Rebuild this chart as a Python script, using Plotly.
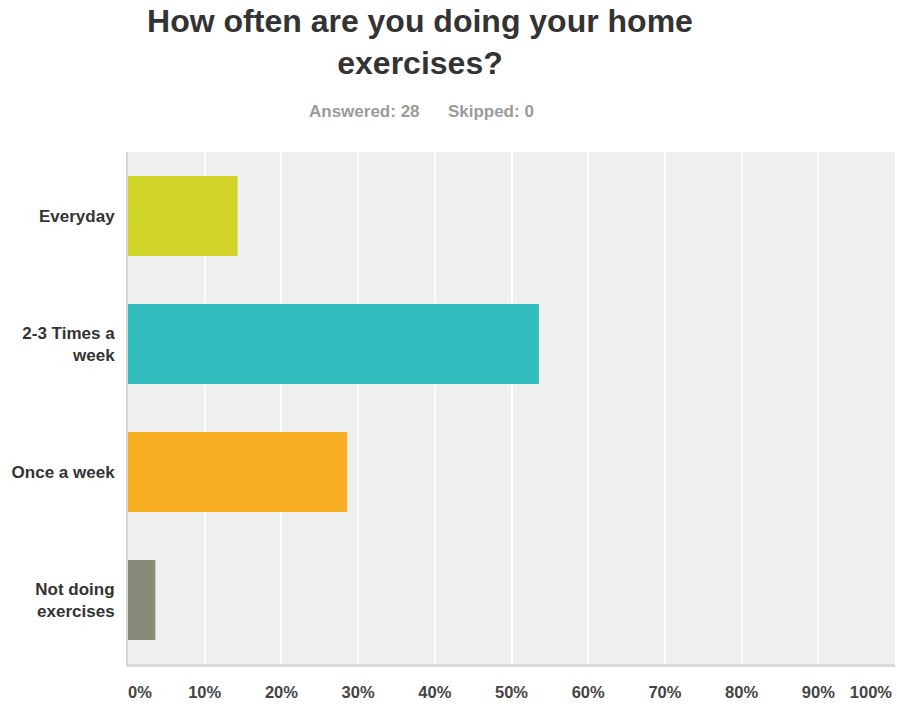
import plotly.graph_objects as go

# Survey responses (28 answered), share of respondents in percent
categories = ["Everyday", "2-3 Times a<br>week", "Once a week", "Not doing<br>exercises"]
percentages = [14.29, 53.57, 28.57, 3.57]
bar_colors = ["#CFD427", "#33BDBF", "#F7AF21", "#8A8A79"]

tick_values = [0, 10, 20, 30, 40, 50, 60, 70, 80, 90, 100]
tick_labels = ["0%", "10%", "20%", "30%", "40%", "50%", "60%", "70%", "80%", "90%", "100%"]

title_text = "How often are you doing your home<br>exercises?"
subtitle_text = "Answered: 28\u00a0\u00a0\u00a0\u00a0\u00a0 Skipped: 0"

fig = go.Figure(
    go.Bar(
        x=percentages,
        y=categories,
        orientation="h",
        marker=dict(color=bar_colors, line=dict(width=0)),
        hovertemplate="%{y}: %{x:.2f}%<extra></extra>",
    )
)

# invisible helper traces so the two overlay axes (end labels) get drawn
for axis_id in ("x2", "x3"):
    fig.add_trace(
        go.Scatter(
            x=[None],
            y=[categories[0]],
            xaxis=axis_id,
            yaxis="y",
            mode="markers",
            marker=dict(opacity=0),
            hoverinfo="skip",
            showlegend=False,
        )
    )

tick_font = dict(size=16.5, color="#444444", weight="bold")

fig.update_layout(
    width=897,
    height=704,
    margin=dict(l=128, r=2, t=152, b=40, autoexpand=False),
    paper_bgcolor="white",
    plot_bgcolor="#EFEFEF",
    bargap=0.375,
    showlegend=False,
    font=dict(family="Liberation Sans, Arial, sans-serif", color="#333333"),
    title=dict(
        text=title_text,
        x=420 / 897,
        xanchor="center",
        xref="container",
        y=1 - 32 / 704,
        yanchor="top",
        yref="container",
        font=dict(size=32, color="#333333", family="Liberation Sans, Arial, sans-serif", weight="bold"),
    ),
    annotations=[
        dict(
            text=subtitle_text,
            xref="paper",
            yref="paper",
            x=(421 - 128) / 767,
            y=(664 - 111) / 512,
            xanchor="center",
            yanchor="middle",
            showarrow=False,
            font=dict(size=17, color="#9B9B9B", weight="bold"),
        )
    ],
    # inner tick labels are centred on their gridlines
    xaxis=dict(
        range=[0, 100],
        tickvals=tick_values[1:-1],
        ticktext=tick_labels[1:-1],
        showgrid=True,
        gridcolor="white",
        gridwidth=2,
        zeroline=False,
        showline=True,
        linecolor="#DADADA",
        linewidth=3,
        ticks="",
        ticklabelstandoff=11,
        automargin=False,
        tickfont=tick_font,
        fixedrange=True,
    ),
    # the first label sits just right of the axis origin
    xaxis2=dict(
        overlaying="x",
        anchor="y",
        side="bottom",
        range=[0, 100],
        tickvals=tick_values[:1],
        ticktext=tick_labels[:1],
        ticklabelposition="outside right",
        showgrid=False,
        zeroline=False,
        showline=False,
        ticks="",
        ticklabelstandoff=16,
        automargin=False,
        tickfont=tick_font,
        fixedrange=True,
    ),
    # the last label ends just left of the plot edge
    xaxis3=dict(
        overlaying="x",
        anchor="y",
        side="bottom",
        range=[0, 100],
        tickvals=tick_values[-1:],
        ticktext=tick_labels[-1:],
        ticklabelposition="outside left",
        ticklabelshift=-3,
        showgrid=False,
        zeroline=False,
        showline=False,
        ticks="",
        ticklabelstandoff=16,
        automargin=False,
        tickfont=tick_font,
        fixedrange=True,
    ),
    yaxis=dict(
        categoryorder="array",
        categoryarray=categories[::-1],
        showgrid=False,
        zeroline=False,
        showline=True,
        linecolor="#D6D6D6",
        linewidth=2,
        ticks="",
        ticklabelstandoff=8,
        automargin=False,
        tickfont=dict(size=17, color="#333333", weight="bold"),
        fixedrange=True,
    ),
)

fig.write_html("out.html")
